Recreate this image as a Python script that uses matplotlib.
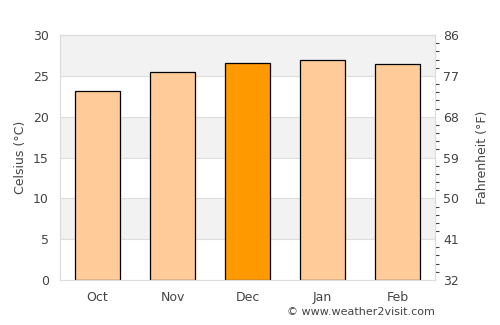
import numpy as np
import matplotlib
matplotlib.use("Agg")
import matplotlib.pyplot as plt

months = ["Oct", "Nov", "Dec", "Jan", "Feb"]
celsius = [23.1, 25.5, 26.6, 27.0, 26.4]
highlight = "Dec"

TEXT = "#444444"
GRID = "#dddddd"

fig = plt.figure(figsize=(5, 3.25), dpi=100)
ax = fig.add_axes([0.12, 0.1385, 0.75, 0.7535])

# alternating bands
for lo in range(0, 30, 5):
    if (lo // 5) % 2 == 1:
        ax.axhspan(lo, lo + 5, color="#f2f2f2", zorder=0, lw=0)
for y in range(5, 30, 5):
    ax.axhline(y, color=GRID, lw=0.8, zorder=0.5)

x = np.arange(len(months))
colors = ["#ff9900" if m == highlight else "#ffcc99" for m in months]
ax.bar(x, celsius, width=0.6, color=colors, edgecolor="black", linewidth=0.9, zorder=2)

ax.set_xlim(-0.5, len(months) - 0.5)
ax.set_ylim(0, 30)
ax.set_xticks(x)
ax.set_xticklabels(months)
ax.set_yticks(range(0, 31, 5))
ax.tick_params(axis="both", length=0, colors=TEXT, labelsize=9, pad=8)
ax.set_ylabel("Celsius (°C)", color=TEXT, fontsize=9)
for s in ax.spines.values():
    s.set_color(GRID)

ax2 = ax.twinx()
ax2.set_ylim(32, 86)
ax2.set_yticks(np.arange(32, 87, 9))
ax2.set_yticks(np.arange(32, 86.01, 1.8), minor=True)
ax2.tick_params(axis="y", which="major", length=0, colors=TEXT, labelsize=9, pad=6)
ax2.tick_params(axis="y", which="minor", length=3, width=0.8, color=TEXT)
ax2.set_ylabel("Fahrenheit (°F)", color=TEXT, fontsize=9, labelpad=12)
for s in ax2.spines.values():
    s.set_color(GRID)

fig.text(0.87, 0.025, "© www.weather2visit.com", ha="right", va="bottom",
         color=TEXT, fontsize=8)

fig.savefig("out.png", dpi=100)
